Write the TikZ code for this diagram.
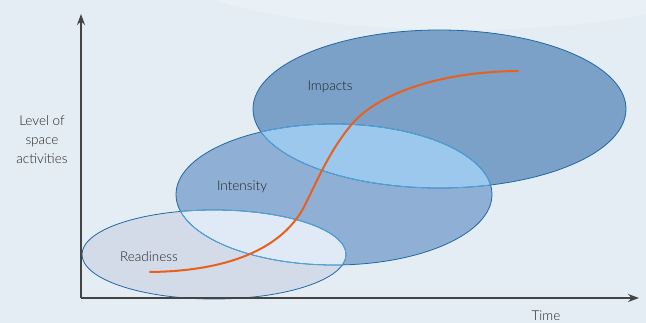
\documentclass[tikz,border=0pt]{standalone}
\usepackage{fontspec}
\setmainfont{Lato}[UprightFont=* Light]
\usetikzlibrary{arrows.meta}
\definecolor{bgcol}{HTML}{E5EDF4}
\definecolor{bglight}{HTML}{EDF3F8}
\definecolor{axiscol}{HTML}{444444}
\definecolor{rimcol}{HTML}{1F68A6}
\definecolor{rimlight}{HTML}{4FA6DE}
\definecolor{readyfill}{HTML}{D3DBE8}
\definecolor{intfill}{HTML}{8FB0D4}
\definecolor{impfill}{HTML}{7BA1C8}
\definecolor{impint}{HTML}{9BC8EC}
\definecolor{readint}{HTML}{DFEAF6}
\definecolor{curvecol}{HTML}{E8601C}
\definecolor{txtcol}{HTML}{222222}
\tikzset{
  axis/.style={draw=axiscol, line width=1.2pt, -{Stealth[length=11pt,width=8pt]}},
  rim/.style={draw=rimcol, line width=0.8pt},
  rimin/.style={draw=rimlight, line width=0.8pt},
  lbl/.style={text=txtcol, font=\fontsize{13.5}{16}\selectfont, inner sep=0pt},
  growth/.style={draw=curvecol, line width=2pt}
}
\begin{document}
\begin{tikzpicture}[x=1pt,y=-1pt]
  \useasboundingbox (0,0) rectangle (646,323);
  % canvas
  \fill[bgcol] (0,0) rectangle (646,323);
  \begin{scope}
    \clip (0,0) rectangle (646,323);
    \fill[bglight, opacity=0.6] (460,-60) ellipse (330 and 90);
  \end{scope}

  % phase regions
  \def\impacts{(439.5,109) ellipse (186.5 and 79)}
  \def\intensity{(334,194.5) ellipse (158 and 70.5)}
  \def\readiness{(214,254.5) ellipse (132 and 44.5)}

  \fill[impfill] \impacts;
  \fill[intfill] \intensity;
  \fill[readyfill] \readiness;
  \begin{scope}
    \clip \impacts;
    \fill[impint] \intensity;
  \end{scope}
  \begin{scope}
    \clip \readiness;
    \fill[readint] \intensity;
  \end{scope}

  \draw[rim] \impacts;
  \draw[rim] \intensity;
  \draw[rim] \readiness;
  \begin{scope}
    \clip \impacts;
    \draw[rimin] \intensity;
  \end{scope}
  \begin{scope}
    \clip \intensity;
    \draw[rimin] \impacts;
    \draw[rimin] \readiness;
  \end{scope}
  \begin{scope}
    \clip \readiness;
    \draw[rimin] \intensity;
  \end{scope}

  % axes
  \coordinate (origin) at (81,298);
  \coordinate (ytop) at (81,14);
  \coordinate (xend) at (639,298);
  \draw[axis] (origin) -- (ytop);
  \draw[axis] (origin) -- (xend);

  % growth curve (S-shaped)
  \coordinate (g0) at (150,272);
  \coordinate (g1) at (305,205);
  \coordinate (g2) at (352,124);
  \coordinate (g3) at (518,71);
  \draw[growth, line cap=round]
    (g0) .. controls (235,271) and (285,245) .. (g1)
         .. controls (318,179) and (330,150) .. (g2)
         .. controls (374,98) and (430,72) .. (g3);

  % labels
  \node[lbl] (impacts) at (330,87) {Impacts};
  \node[lbl] (intensity) at (242,187) {Intensity};
  \node[lbl] (readiness) at (149,257) {Readiness};
  \node[lbl, align=center, font=\fontsize{13.5}{19}\selectfont] (ylabel) at (42,140) {Level of\\space\\activities};
  \node[lbl] (xlabel) at (546,316) {Time};
\end{tikzpicture}
\end{document}
